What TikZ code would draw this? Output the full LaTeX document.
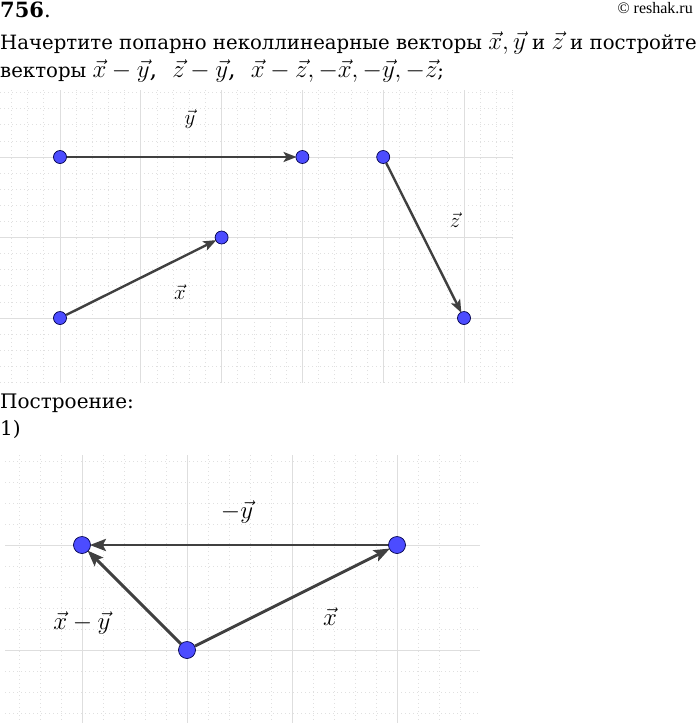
\documentclass[tikz,border=0pt]{standalone}
\usepackage{fontspec}
\setmainfont{DejaVu Serif}
\newfontfamily\copyfont{Liberation Serif}
\usetikzlibrary{arrows.meta}
\newcommand{\mathfs}{\fontsize{24}{24}\selectfont}
\begin{document}
\begin{tikzpicture}[x=1pt,y=-1pt,
    major/.style={black!13, line width=0.9pt},
    minor/.style={black!12, line width=0.7pt, dash pattern=on 1pt off 3pt},
    pt/.style={circle, draw=blue!30!black, fill=blue!70!white, line width=0.7pt, inner sep=0pt, minimum size=13pt},
    bigpt/.style={pt, minimum size=17pt},
    vec/.style={draw=black!75, line width=2.4pt, shorten >=-1pt, -{Stealth[length=13pt,width=10pt,inset=3pt]}},
    bigvec/.style={vec, line width=2.9pt, -{Stealth[length=16pt,width=12pt,inset=3pt]}},
    lbl/.style={font=\fontsize{20}{20}\selectfont},
    biglbl/.style={font=\fontsize{25}{25}\selectfont}]
  \useasboundingbox (0,0) rectangle (700,724);
  % text
  \node[anchor=base west, inner sep=0pt, font=\fontsize{21}{21}\selectfont] (num) at (0,17) {\textbf{756}.};
  \node[anchor=base east, inner sep=0pt, font=\fontsize{16}{16}\copyfont] (copy) at (693,13) {© reshak.ru};
  \node[anchor=base west, inner sep=0pt, font=\fontsize{19.7}{20}\selectfont] (task1) at (0,49)
    {Начертите попарно неколлинеарные векторы {\mathfs$\vec{x}, \vec{y}$} и {\mathfs$\vec{z}$} и постройте};
  \node[anchor=base west, inner sep=0pt, font=\fontsize{19.7}{20}\selectfont] (task2) at (0,77)
    {векторы {\mathfs$\vec{x}-\vec{y}$,\ \ $\vec{z}-\vec{y}$,\ \ $\vec{x}-\vec{z}, -\vec{x}, -\vec{y}, -\vec{z}$};};
  \node[anchor=base west, inner sep=0pt, font=\fontsize{20}{20}\selectfont] (build) at (0,408) {Построение:};
  \node[anchor=base west, inner sep=0pt, font=\fontsize{20}{20}\selectfont] (step1) at (0,435) {1)};

  % first grid
  \begin{scope}
    \clip (0,90) rectangle (513,383);
    \foreach \i in {-4,...,28}
      \draw[minor] ({60+16.16*\i},90) -- ({60+16.16*\i},383);
    \foreach \i in {-4,...,14}
      \draw[minor] (0,{157+16.1*\i}) -- (513,{157+16.1*\i});
    \foreach \i in {0,...,5}
      \draw[major] ({60+80.8*\i},90) -- ({60+80.8*\i},383);
    \foreach \i in {0,1,2}
      \draw[major] (0,{157+80.5*\i}) -- (513,{157+80.5*\i});
  \end{scope}

  % vectors x, y, z
  \node[pt] (ya) at (60,157) {};
  \node[pt] (yb) at (302.4,157) {};
  \node[pt] (xa) at (60,318) {};
  \node[pt] (xb) at (221.6,237.5) {};
  \node[pt] (za) at (383.2,157) {};
  \node[pt] (zb) at (464,318) {};
  \draw[vec] (ya) -- (yb);
  \draw[vec] (xa) -- (xb);
  \draw[vec] (za) -- (zb);
  \node[lbl] (ylbl) at (190,119) {$\vec{y}$};
  \node[lbl] (xlbl) at (180,292) {$\vec{x}$};
  \node[lbl] (zlbl) at (455,220) {$\vec{z}$};

  % second grid
  \begin{scope}
    \clip (5,455) rectangle (480,723);
    \foreach \i in {-4,...,19}
      \draw[minor] ({82+21*\i},455) -- ({82+21*\i},723);
    \foreach \i in {-5,...,9}
      \draw[minor] (5,{545+21*\i}) -- (480,{545+21*\i});
    \foreach \i in {0,...,3}
      \draw[major] ({82+105*\i},455) -- ({82+105*\i},723);
    \foreach \i in {0,1}
      \draw[major] (5,{545+105*\i}) -- (480,{545+105*\i});
  \end{scope}

  % construction 1)
  \node[bigpt] (pa) at (82,545) {};
  \node[bigpt] (pb) at (397,545) {};
  \node[bigpt] (pc) at (187,650) {};
  \draw[bigvec] (pb) -- (pa);
  \draw[bigvec] (pc) -- (pb);
  \draw[bigvec] (pc) -- (pa);
  \node[biglbl] (mylbl) at (237,512) {$-\vec{y}$};
  \node[biglbl] (xylbl) at (82,623) {$\vec{x}-\vec{y}$};
  \node[biglbl] (xlbl2) at (330,617) {$\vec{x}$};
\end{tikzpicture}
\end{document}
